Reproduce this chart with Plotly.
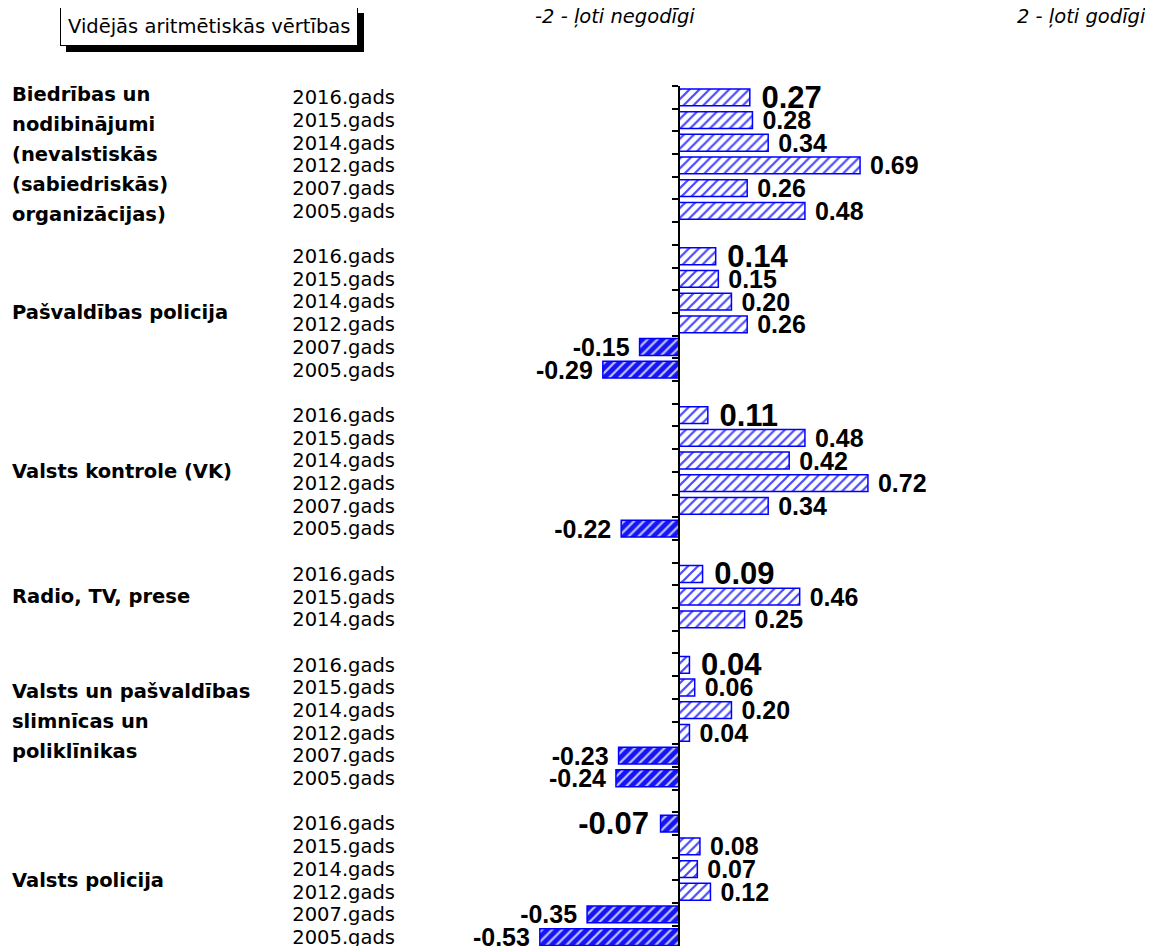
import plotly.graph_objects as go

GROUPS = [
    "Biedrības un\nnodibinājumi\n(nevalstiskās\n(sabiedriskās)\norganizācijas)",
    "Pašvaldības policija",
    "Valsts kontrole (VK)",
    "Radio, TV, prese",
    "Valsts un pašvaldības\nslimnīcas un\npoliklīnikas",
    "Valsts policija",
]

YEARS_FULL = ["2016.gads", "2015.gads", "2014.gads", "2012.gads", "2007.gads", "2005.gads"]
YEARS_SHORT = ["2016.gads", "2015.gads", "2014.gads"]

BIEDRIBAS = [0.27, 0.28, 0.34, 0.69, 0.26, 0.48]
PASV_POLICIJA = [0.14, 0.15, 0.20, 0.26, -0.15, -0.29]
VALSTS_KONTROLE = [0.11, 0.48, 0.42, 0.72, 0.34, -0.22]
RADIO_TV = [0.09, 0.46, 0.25]
SLIMNICAS = [0.04, 0.06, 0.20, 0.04, -0.23, -0.24]
VALSTS_POLICIJA = [-0.07, 0.08, 0.07, 0.12, -0.35, -0.53]

GROUP_YEARS = [YEARS_FULL, YEARS_FULL, YEARS_FULL, YEARS_SHORT, YEARS_FULL, YEARS_FULL]
GROUP_VALUES = [BIEDRIBAS, PASV_POLICIJA, VALSTS_KONTROLE, RADIO_TV, SLIMNICAS, VALSTS_POLICIJA]

BOX_TITLE = "Vidējās aritmētiskās vērtības"
LEFT_NOTE = "-2 - ļoti negodīgi"
RIGHT_NOTE = "2 - ļoti godīgi"

BLUE = "#0000ff"
POS_BG, POS_FG = "#ffffff", "#4a4aff"
NEG_BG, NEG_FG = "#1414f5", "#c4c4ff"

# the page body has an 8px margin, so the figure is 8px smaller
W, H = 1145, 938
LEFT, RIGHT, TOP = 388, 10, 78
X_RANGE = [-1.078, 1.768]
Y_RANGE = [37.39, -0.5]

# row positions: one blank row between groups
ys, xs, labels, texts, sizes, fgs, bgs = [], [], [], [], [], [], []
centers = []
row = 0
for years, vals in zip(GROUP_YEARS, GROUP_VALUES):
    centers.append(row + (len(vals) - 1) / 2)
    for i, (yr, v) in enumerate(zip(years, vals)):
        ys.append(row)
        xs.append(v)
        labels.append(yr)
        s = f"{v:.2f}"
        texts.append("\u00a0" + s if v >= 0 else s + "\u00a0")
        sizes.append(31 if i == 0 else 25)
        fgs.append(POS_FG if v >= 0 else NEG_FG)
        bgs.append(POS_BG if v >= 0 else NEG_BG)
        row += 1
    row += 1
last_row = row - 2

fig = go.Figure()
fig.add_bar(
    x=xs, y=ys, orientation="h", width=0.74,
    text=texts, textposition="outside", cliponaxis=False, constraintext="none",
    textfont=dict(family="Liberation Sans, Arial, sans-serif", size=sizes, color="black", weight="bold"),
    marker=dict(
        line=dict(color=BLUE, width=1.5),
        pattern=dict(shape="/", fgcolor=fgs, bgcolor=bgs, size=7, solidity=0.32, fillmode="replace"),
    ),
    showlegend=False, hoverinfo="x+y",
)
# invisible trace so the zero axis (yaxis2) gets drawn
fig.add_scatter(x=xs, y=ys, yaxis="y2", mode="none", hoverinfo="skip", showlegend=False)

zero_pos = (0 - X_RANGE[0]) / (X_RANGE[1] - X_RANGE[0])
fig.update_layout(
    width=W, height=H,
    margin=dict(l=LEFT, r=RIGHT, t=TOP, b=0, autoexpand=False),
    paper_bgcolor="white", plot_bgcolor="white",
    font=dict(family="DejaVu Sans, sans-serif", color="black"),
    xaxis=dict(range=X_RANGE, visible=False, showgrid=False, zeroline=False),
    yaxis=dict(
        range=Y_RANGE, tickvals=ys, ticktext=labels, ticks="", showline=False,
        showgrid=False, zeroline=False, tickfont=dict(size=19.5, color="black"),
        ticklabeloverflow="allow",
    ),
    yaxis2=dict(
        range=Y_RANGE, overlaying="y", anchor="free", position=zero_pos, side="left",
        tickvals=[i + 0.5 for i in range(-1, last_row + 1)], ticks="outside", ticklen=6,
        tickwidth=1.5, tickcolor="black", showline=True, linewidth=1.5, linecolor="black",
        showticklabels=False, showgrid=False, zeroline=False,
    ),
)

# group names at the far left, one annotation per line
for name, c in zip(GROUPS, centers):
    lines = name.split("\n")
    n = len(lines)
    for k, line in enumerate(lines):
        fig.add_annotation(
            text=line, xref="paper", yref="y", x=0, y=c, xanchor="left", yanchor="middle",
            xshift=-386, yshift=((n - 1) / 2 - k) * 30, showarrow=False,
            font=dict(size=19.5, weight="bold", color="black"),
        )

# boxed title with shadow
fig.add_annotation(
    text=BOX_TITLE, xref="paper", yref="paper", x=0, y=1, xanchor="center", yanchor="middle",
    xshift=-187.5 + 6, yshift=59.5 - 6, showarrow=False, font=dict(size=19.5, color="black"),
    bgcolor="black", bordercolor="black", borderwidth=1, borderpad=7,
)
fig.add_annotation(
    text=BOX_TITLE, xref="paper", yref="paper", x=0, y=1, xanchor="center", yanchor="middle",
    xshift=-187.5, yshift=59.5, showarrow=False, font=dict(size=19.5, color="black"),
    bgcolor="white", bordercolor="black", borderwidth=1, borderpad=7,
)

fig.add_annotation(
    text=f"<i>{LEFT_NOTE}</i>", xref="paper", yref="paper", x=0, y=1, xanchor="left",
    yanchor="middle", xshift=527 - LEFT - 2, yshift=TOP - 8, showarrow=False,
    font=dict(size=19.5, color="black"),
)
fig.add_annotation(
    text=f"<i>{RIGHT_NOTE}</i>", xref="paper", yref="paper", x=1, y=1, xanchor="right",
    yanchor="middle", xshift=5, yshift=TOP - 8, showarrow=False,
    font=dict(size=19.5, color="black"),
)

fig.write_html("out.html")
